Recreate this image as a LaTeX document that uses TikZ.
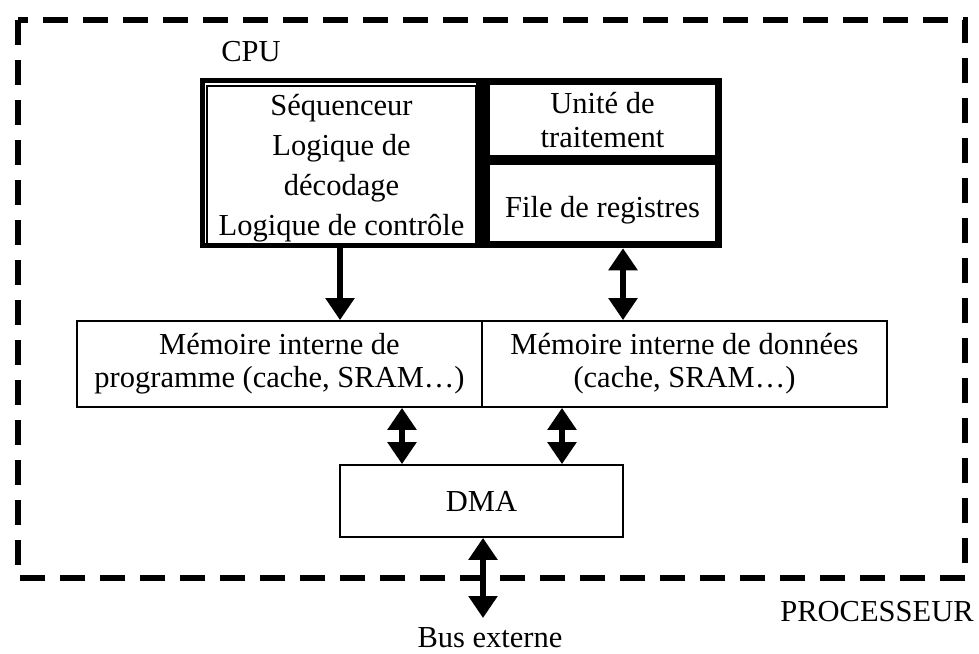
\documentclass[tikz,border=0pt]{standalone}
\usepackage{fontspec}
\setmainfont{Liberation Serif}
\usetikzlibrary{arrows.meta}

\tikzset{
  txt/.style={font=\fontsize{30.5}{34}\selectfont, inner sep=0pt, align=center},
  cell/.style={draw, line width=1.2pt, inner sep=0pt, align=center,
    font=\fontsize{30.5}{40}\selectfont},
  membox/.style={draw, line width=1.8pt, inner sep=0pt, align=center,
    font=\fontsize{30.5}{33}\selectfont},
  frame/.style={draw, line width=5.5pt, inner sep=0pt},
  oneway/.style={line width=6pt, -{Triangle[length=22pt,width=28pt]}},
  twoway/.style={line width=6pt, {Triangle[length=22pt,width=28pt]}-{Triangle[length=22pt,width=28pt]}},
  border/.style={line width=6pt, dash pattern=on 25pt off 15pt},
}

\begin{document}
\begin{tikzpicture}[x=1pt, y=-1pt]
  \useasboundingbox (0,0) rectangle (979,653);

  % processor boundary
  \draw[border] (18,20) rectangle (965,578);
  \node[txt] (proc) at (877,612) {PROCESSEUR};

  % CPU block: thick frame with solid inner dividers
  \node[txt] (cpulabel) at (251,52) {CPU};
  \node[frame, minimum width=517pt, minimum height=165pt] (cpu) at (461,163) {};
  \draw[line width=12pt] (482,80) -- (482,246);
  \draw[line width=8pt] (482,160) -- (719,160);

  \node[cell, minimum width=269pt, minimum height=158pt, text depth=0pt] (seq) at (341.5,165)
    {Séquenceur\\Logique de\\décodage\\Logique de contrôle};
  \node[cell, minimum width=227pt, minimum height=72pt,
        font=\fontsize{30.5}{34}\selectfont] (ut) at (602.5,120) {Unité de\\traitement};
  \node[cell, minimum width=227pt, minimum height=78pt] (reg) at (602.5,203) {};
  \node[txt] (regtxt) at (602.5,210) {File de registres};

  % internal memories
  \node[membox, minimum width=405pt, minimum height=86pt] (mprog) at (279.5,364)
    {Mémoire interne de\\programme (cache, SRAM…)};
  \node[membox, minimum width=405pt, minimum height=86pt] (mdata) at (684.5,364)
    {Mémoire interne de données\\(cache, SRAM…)};

  % DMA
  \node[membox, minimum width=283pt, minimum height=72pt] (dma) at (481.5,501) {DMA};

  % external bus
  \coordinate (busend) at (483,618);
  \node[txt] (bus) at (490,638) {Bus externe};

  % connections
  \draw[oneway] (340,0 |- cpu.south) -- (340,0 |- mprog.north);
  \draw[twoway] (623,0 |- cpu.south) -- (623,0 |- mdata.north);
  \draw[twoway] (402,0 |- mprog.south) -- (402,0 |- dma.north);
  \draw[twoway] (562,0 |- mdata.south) -- (562,0 |- dma.north);
  \draw[twoway] (483,0 |- dma.south) -- (busend);
\end{tikzpicture}
\end{document}
